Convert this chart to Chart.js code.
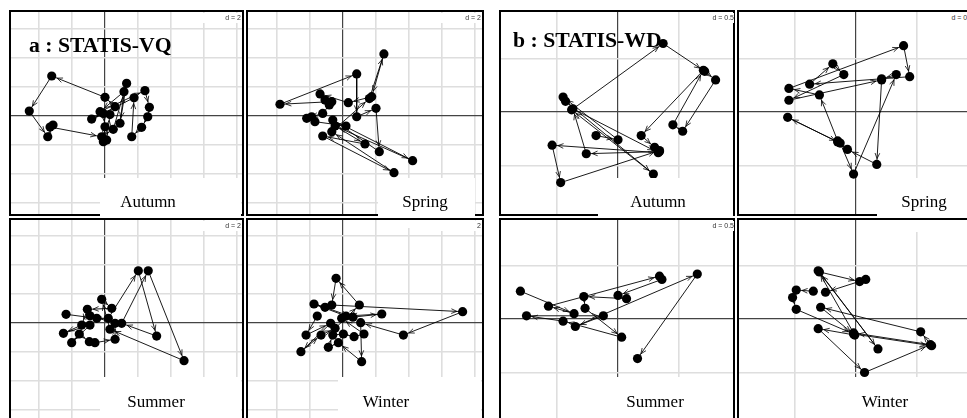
<!DOCTYPE html>
<html>
<head>
<meta charset="utf-8">
<script src="https://cdn.jsdelivr.net/npm/chart.js@4.4.1/dist/chart.umd.min.js"></script>
<style>
  html, body { margin: 0; padding: 0; background: #fff; }
  #fig { position: relative; width: 967px; height: 418px; overflow: hidden; background: #fff; }
  #fig canvas { position: absolute; }
  .lab { position: absolute; background: #fff; }
  .season { position: absolute; width: 120px; text-align: center; font: 17px "Liberation Serif", "Times New Roman", serif; line-height: 17px; color: #000; }
  .dlab { position: absolute; width: 40px; height: 10px; text-align: right; font: 7px "Liberation Sans", Arial, sans-serif; line-height: 10px; color: #333; background: #fff; }
  .title { position: absolute; font: bold 21.7px "Liberation Serif", "Times New Roman", serif; line-height: 22px; color: #000; white-space: nowrap; }
</style>
</head>
<body>
<div id="fig"></div>
<script>
var seasons = ["Autumn", "Spring", "Summer", "Winter"];
var titles = ["a : STATIS-VQ", "b : STATIS-WD"];
var scaleLabels = ["d = 2", "d = 0.5"];

// trajectories, panel a (STATIS-VQ), grid step 2
var autumnVQ = [[0.61,0.64],[0.0,1.29],[-3.23,2.76],[-4.59,0.34],[-3.47,-1.43],[-3.15,-0.62],[-3.33,-0.76],[-0.2,-1.43],[0.5,-0.92],[1.31,2.25],[0.91,-0.5],[1.15,1.68],[-0.3,0.3],[2.42,1.75],[2.69,0.6],[2.59,-0.05],[2.22,-0.78],[1.62,-1.43],[1.76,1.26],[-0.81,-0.21],[-0.1,0.18],[0.0,-0.74],[-0.1,-1.77],[0.1,-1.66],[0.3,0.1]];
var springVQ = [[-0.68,0.99],[-3.82,0.81],[0.83,2.9],[0.83,-0.05],[2.0,0.53],[2.2,-2.46],[-0.62,-0.28],[4.22,-3.08],[-0.48,-0.69],[1.33,-1.93],[-1.23,-1.38],[3.09,-3.91],[-0.68,-1.08],[1.6,1.2],[2.48,4.28],[1.74,1.33],[0.32,0.92],[-1.39,1.52],[-1.09,1.1],[-0.83,0.76],[-1.23,0.18],[-2.2,-0.16],[-1.9,-0.05],[-1.7,-0.39],[0.18,-0.69]];
var summerVQ = [[-2.36,0.6],[-0.5,0.32],[0.2,0.32],[2.02,3.6],[3.13,-0.9],[1.01,-0.02],[2.62,3.6],[4.79,-2.6],[0.3,-0.43],[-0.2,1.63],[0.41,1.01],[-1.07,0.94],[-1.41,-0.14],[-2.52,-0.71],[-0.91,-0.14],[-2.02,-1.36],[-1.56,-0.76],[-0.95,-1.29],[-0.61,-1.36],[0.61,-1.12],[0.61,-0.02],[-0.91,0.5]];
var winterVQ = [[-1.56,0.48],[-2.24,-0.83],[-0.75,-0.02],[-2.55,-1.98],[-1.33,-0.83],[-0.48,-0.37],[0.99,1.24],[-0.42,3.08],[-0.68,1.24],[7.25,0.78],[3.66,-0.83],[1.07,0.02],[1.13,-2.67],[-0.28,-1.36],[-0.89,-1.68],[-0.62,-0.83],[0.02,-0.76],[0.67,-0.94],[1.27,-0.76],[-0.08,0.32],[2.35,0.62],[0.18,0.48],[-1.76,1.31],[-1.09,1.08],[0.6,0.4]];

// trajectories, panel b (STATIS-WD), grid step 0.5
var autumnWD = [[-0.18,-0.22],[0.00,-0.26],[-0.45,0.14],[-0.43,0.10],[0.29,-0.58],[-0.38,0.02],[0.37,0.64],[0.71,0.38],[0.80,0.30],[0.53,-0.18],[0.45,-0.12],[0.70,0.39],[0.19,-0.22],[0.30,-0.33],[0.34,-0.37],[-0.26,-0.39],[-0.37,0.03],[0.33,-0.38],[-0.54,-0.31],[-0.47,-0.66],[0.34,-0.36]];
var springWD = [[-0.15,-0.27],[-0.30,0.16],[-0.55,0.22],[0.39,0.62],[0.44,0.33],[-0.38,0.26],[-0.19,0.45],[-0.10,0.35],[-0.55,0.11],[0.21,0.30],[0.17,-0.49],[-0.07,-0.35],[-0.15,-0.28],[-0.56,-0.05],[-0.13,-0.29],[-0.02,-0.58],[0.33,0.35],[0.21,0.31]];
var summerWD = [[-0.80,0.26],[-0.36,0.05],[-0.57,0.12],[0.34,0.40],[0.36,0.37],[0.00,0.22],[0.07,0.19],[-0.28,0.21],[-0.27,0.10],[0.03,-0.17],[-0.45,-0.02],[-0.75,0.03],[-0.12,0.03],[-0.35,-0.07],[0.65,0.42],[0.16,-0.37]];
var winterWD = [[-0.35,0.26],[-0.49,0.27],[-0.52,0.20],[-0.49,0.09],[-0.02,-0.14],[0.62,-0.25],[0.53,-0.12],[-0.29,0.11],[-0.01,-0.15],[-0.31,-0.09],[0.07,-0.50],[0.61,-0.24],[-0.02,-0.13],[-0.31,0.45],[0.18,-0.28],[-0.30,0.44],[0.03,0.35],[0.08,0.37],[-0.25,0.25]];

// layout: canvas box [left, top, w, h], origin pixel, px per unit, label box, label centre/baseline
var panels = [
  { pts: autumnVQ, name: seasons[0], box: [9, 10, 235, 206], org: [105, 116], ppu: [16.5, 14.5], step: 2, d: scaleLabels[0], dpos: [241, 13], lab: [100, 178, 141, 39], txt: [148, 207] },
  { pts: springVQ, name: seasons[1], box: [246, 10, 238, 206], org: [343, 116], ppu: [16.5, 14.5], step: 2, d: scaleLabels[0], dpos: [481, 13], lab: [378, 178, 97, 39], txt: [425, 207] },
  { pts: summerVQ, name: seasons[2], box: [9, 218, 235, 212], org: [105, 323], ppu: [16.5, 14.5], step: 2, d: scaleLabels[0], dpos: [241, 221], lab: [100, 377, 141, 41], txt: [156, 407] },
  { pts: winterVQ, name: seasons[3], box: [246, 218, 238, 212], org: [343, 323], ppu: [16.5, 14.5], step: 2, d: scaleLabels[0], dpos: [481, 221], lab: [338, 377, 143, 41], txt: [386, 407] },
  { pts: autumnWD, name: seasons[0], box: [499, 10, 236, 206], org: [618, 112], ppu: [122, 107], step: 0.5, d: scaleLabels[1], dpos: [734, 13], lab: [598, 178, 135, 39], txt: [658, 207] },
  { pts: springWD, name: seasons[1], box: [737, 10, 240, 206], org: [856, 112], ppu: [122, 107], step: 0.5, d: scaleLabels[1], dpos: [973, 13], lab: [877, 178, 95, 39], txt: [924, 207] },
  { pts: summerWD, name: seasons[2], box: [499, 218, 236, 212], org: [618, 319], ppu: [122, 107], step: 0.5, d: scaleLabels[1], dpos: [734, 221], lab: [598, 377, 135, 41], txt: [655, 407] },
  { pts: winterWD, name: seasons[3], box: [737, 218, 240, 212], org: [856, 319], ppu: [122, 107], step: 0.5, d: scaleLabels[1], dpos: [973, 221], lab: [828, 377, 140, 41], txt: [885, 407] }
];

var fig = document.getElementById("fig");

///arrow heads on each trajectory step
var arrowPlugin = {
  id: "arrows",
  afterDatasetsDraw: function (chart) {
    var ctx = chart.ctx;
    var pts = chart.getDatasetMeta(0).data;
    ctx.save();
    ctx.strokeStyle = "#000";
    ctx.lineWidth = 0.8;
    ctx.beginPath();
    for (var i = 1; i < pts.length; i++) {
      var a = pts[i - 1], b = pts[i];
      var dx = b.x - a.x, dy = b.y - a.y;
      var L = Math.sqrt(dx * dx + dy * dy);
      if (L < 10) continue;
      var tx = b.x - (dx / L) * 5.8, ty = b.y - (dy / L) * 5.8;
      var ang = Math.atan2(dy, dx);
      [-0.4, 0.4].forEach(function (s) {
        ctx.moveTo(tx, ty);
        ctx.lineTo(tx - 6 * Math.cos(ang + s), ty - 6 * Math.sin(ang + s));
      });
    }
    ctx.stroke();
    ctx.restore();
  }
};

///panel frame
var framePlugin = {
  id: "frame",
  afterDraw: function (chart) {
    var ctx = chart.ctx;
    ctx.save();
    ctx.strokeStyle = "#000";
    ctx.lineWidth = 2;
    ctx.strokeRect(1, 1, chart.width - 2, chart.height - 2);
    ctx.restore();
  }
};

function axisOpts(min, max, step) {
  return {
    type: "linear",
    min: min,
    max: max,
    ticks: { display: false },
    border: { display: false },
    grid: {
      drawTicks: false,
      color: function (c) {
        return c.tick && Math.abs(c.tick.value) < 1e-9 ? "#444" : "#dedede";
      },
      lineWidth: function (c) {
        return c.tick && Math.abs(c.tick.value) < 1e-9 ? 1.2 : 1.6;
      }
    },
    afterBuildTicks: function (scale) {
      var t = [];
      for (var v = Math.ceil(min / step) * step; v <= max + 1e-9; v += step) {
        t.push({ value: Math.round(v * 1000) / 1000 });
      }
      scale.ticks = t;
    }
  };
}

panels.forEach(function (p) {
  var cv = document.createElement("canvas");
  cv.width = p.box[2];
  cv.height = p.box[3];
  cv.style.left = p.box[0] + "px";
  cv.style.top = p.box[1] + "px";
  cv.style.width = p.box[2] + "px";
  cv.style.height = p.box[3] + "px";
  fig.appendChild(cv);

  var xmin = (p.box[0] - p.org[0]) / p.ppu[0];
  var xmax = (p.box[0] + p.box[2] - p.org[0]) / p.ppu[0];
  var ymax = (p.org[1] - p.box[1]) / p.ppu[1];
  var ymin = (p.org[1] - p.box[1] - p.box[3]) / p.ppu[1];

  new Chart(cv, {
    type: "scatter",
    data: {
      datasets: [
        {
          data: p.pts.map(function (q) { return { x: q[0], y: q[1] }; }),
          showLine: true,
          borderColor: "#000",
          borderWidth: 0.9,
          pointRadius: 4.6,
          pointBackgroundColor: "#000",
          pointBorderColor: "#000",
          pointBorderWidth: 0,
          tension: 0
        }
      ]
    },
    options: {
      responsive: false,
      animation: false,
      events: [],
      layout: { padding: 0, autoPadding: false },
      plugins: { legend: { display: false }, tooltip: { enabled: false } },
      scales: {
        x: axisOpts(xmin, xmax, p.step),
        y: axisOpts(ymin, ymax, p.step)
      }
    },
    plugins: [arrowPlugin, framePlugin]
  });

  var dl = document.createElement("div");
  dl.className = "dlab";
  dl.style.left = (p.dpos[0] - 40) + "px";
  dl.style.top = p.dpos[1] + "px";
  dl.textContent = p.d;
  fig.appendChild(dl);
});

// season label boxes go on top of every panel
panels.forEach(function (p) {
  var bx = document.createElement("div");
  bx.className = "lab";
  bx.style.left = p.lab[0] + "px";
  bx.style.top = p.lab[1] + "px";
  bx.style.width = p.lab[2] + "px";
  bx.style.height = p.lab[3] + "px";
  fig.appendChild(bx);

  var tx = document.createElement("div");
  tx.className = "season";
  tx.style.left = (p.txt[0] - 60) + "px";
  tx.style.top = (p.txt[1] - 14) + "px";
  tx.textContent = p.name;
  fig.appendChild(tx);
});

// spring boxes also hide the top strip of the winter panels
[[378, 220, 97, 8], [877, 220, 95, 12]].forEach(function (r) {
  var bx = document.createElement("div");
  bx.className = "lab";
  bx.style.left = r[0] + "px";
  bx.style.top = r[1] + "px";
  bx.style.width = r[2] + "px";
  bx.style.height = r[3] + "px";
  fig.appendChild(bx);
});

[[29, 34], [513, 29]].forEach(function (pos, i) {
  var t = document.createElement("div");
  t.className = "title";
  t.style.left = pos[0] + "px";
  t.style.top = pos[1] + "px";
  t.textContent = titles[i];
  fig.appendChild(t);
});
</script>
</body>
</html>
